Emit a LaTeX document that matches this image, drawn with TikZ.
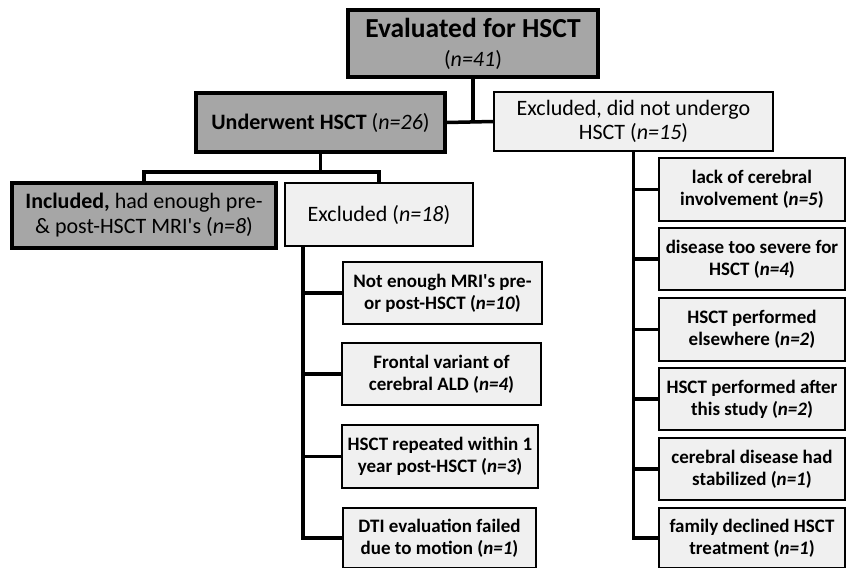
\documentclass[tikz,border=0pt]{standalone}
\usepackage{fontspec}
\setmainfont{Carlito}
\usetikzlibrary{positioning,calc}
\definecolor{boxdark}{HTML}{A6A6A6}
\definecolor{boxlight}{HTML}{F0F0F0}

\begin{document}
\begin{tikzpicture}
[x=1pt,y=-1pt,
darkbox/.style={draw=black,line width=3.5pt,fill=boxdark,align=center,inner sep=0pt,
  font=\fontsize{22}{25}\selectfont},
lightbox/.style={draw=black,line width=2pt,fill=boxlight,align=center,inner sep=0pt,
  font=\fontsize{22}{24}\selectfont},
leafbox/.style={lightbox,font=\fontsize{19}{22}\selectfont\bfseries},
link/.style={line width=3.5pt}]

\useasboundingbox (0,0) rectangle (847,568);

% top levels
\node[darkbox,minimum width=250,minimum height=67,font=\fontsize{22}{29}\selectfont]
  (eval) at (473,43.5) {{\fontsize{27.5}{27}\selectfont\bfseries Evaluated for HSCT}\\(\textit{n=41})};
\node[darkbox,minimum width=249,minimum height=59] (under) at (320.5,122.5)
  {\textbf{Underwent HSCT} (\textit{n=26})};
\node[lightbox,minimum width=279,minimum height=59] (exdid) at (633.5,121.5)
  {Excluded, did not undergo\\HSCT (\textit{n=15})};
\node[darkbox,minimum width=264,minimum height=65] (incl) at (144,215.5)
  {\textbf{Included,} had enough pre-\\\& post-HSCT MRI\textquotesingle s (\textit{n=8})};
\node[lightbox,minimum width=188,minimum height=63] (excl) at (379,214.5)
  {Excluded (\textit{n=18})};

% excluded after HSCT
\node[leafbox,minimum width=199,minimum height=62] (nomri) at (442.5,293)
  {Not enough MRI\textquotesingle s pre-\\or post-HSCT (\textit{n=10})};
\node[leafbox,minimum width=199,minimum height=62] (frontal) at (441.5,374)
  {Frontal variant of\\cerebral ALD (\textit{n=4})};
\node[leafbox,minimum width=196,minimum height=63] (redo) at (440,456.5)
  {HSCT repeated within 1\\year post-HSCT (\textit{n=3})};
\node[leafbox,minimum width=193,minimum height=60] (dti) at (439.5,538)
  {DTI evaluation failed\\due to motion (\textit{n=1})};

% excluded without HSCT
\node[leafbox,minimum width=186,minimum height=63] (lack) at (752,189.5)
  {lack of cerebral\\involvement (\textit{n=5})};
\node[leafbox,minimum width=186,minimum height=62] (severe) at (752,259)
  {disease too severe for\\HSCT (\textit{n=4})};
\node[leafbox,minimum width=186,minimum height=63] (elsewhere) at (752,329.5)
  {HSCT performed\\elsewhere (\textit{n=2})};
\node[leafbox,minimum width=186,minimum height=62] (after) at (752,399)
  {HSCT performed after\\this study (\textit{n=2})};
\node[leafbox,minimum width=186,minimum height=62] (stab) at (752,469)
  {cerebral disease had\\stabilized (\textit{n=1})};
\node[leafbox,minimum width=186,minimum height=60] (family) at (752,538)
  {family declined HSCT\\treatment (\textit{n=1})};

% connectors
\draw[link] (eval.south) -- (eval.south |- under.east);
\draw[link] (under.east) -- (exdid.west);
\coordinate (usplit) at ($(under.south)+(0,18)$);
\draw[link] (under.south) -- (usplit);
\draw[link] (incl.north) |- (usplit) -| (excl.north);

\coordinate (mtop) at ($(excl.south west)+(19,0)$);
\draw[link] (mtop) |- (dti.west);
\foreach \b in {nomri,frontal,redo}
\draw[link] (mtop |- \b.west) -- (\b.west);

\draw[link] (exdid.south) |- (family.west);
\foreach \b in {lack,severe,elsewhere,after,stab}
\draw[link] (exdid.south |- \b.west) -- (\b.west);
\end{tikzpicture}
\end{document}
